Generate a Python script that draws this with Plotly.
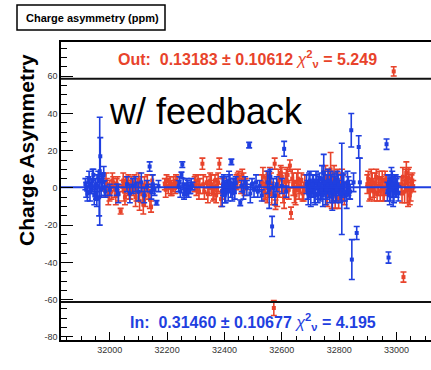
import plotly.graph_objects as go

# ---------------- data ----------------
red_x = [31984, 31990, 31995, 32000, 32006, 32012, 32018, 32024, 32030, 32038, 32044, 32050, 32056,
         32062, 32068, 32075, 32082, 32090, 32097, 32104, 32110, 32117, 32124, 32131, 32140, 32148,
         32192, 32198, 32204, 32210, 32216, 32222, 32228, 32236,
         32296, 32302, 32308, 32314, 32323, 32330, 32338, 32346, 32354, 32360, 32367, 32374, 32382,
         32388, 32395,
         32442, 32450, 32458, 32466, 32474,
         32530, 32538, 32546, 32552, 32558, 32565, 32572, 32575, 32578, 32588, 32596, 32604, 32612,
         32620, 32628, 32632, 32640, 32648, 32656, 32664, 32672, 32680,
         32748, 32755, 32762, 32770, 32778, 32786, 32794, 32802, 32810, 32818,
         32898, 32905, 32912, 32918, 32925, 32932, 32939, 32946, 32953, 32960, 32968,
         32990, 33016, 33022, 33024, 33028, 33034, 33040, 33046, 33052, 33058,
         31987, 31999, 32009, 32021, 32027, 32047, 32053, 32065, 32072, 32086, 32093, 32101,
         32114, 32121, 32135, 32144,
         32195, 32213, 32231,
         32299, 32311, 32326, 32342, 32350, 32363, 32371, 32378, 32392,
         32446, 32462, 32470,
         32534, 32542, 32550, 32562, 32584, 32592, 32600, 32608, 32616, 32624, 32636, 32644,
         32652, 32660, 32668, 32676,
         32752, 32759, 32766, 32774, 32782, 32790, 32798, 32806, 32814,
         32901, 32908, 32915, 32922, 32929, 32936, 32943, 32950, 32957, 32964,
         33019, 33031, 33037, 33043, 33049, 33055]
red_y = [-1, 2, -4, 1, -2, 3, -1, 2, -3, -12.5, 1, -2, 3,
         0, -3, 2, -1, -5, 1, -7, 2, -9, -4, 3, -6, 4,
         2, 4, 1, 3, -1, 2, 0, 3,
         2, -1, 4, 1, 13, -2, 3, 0, 2, -3, 4, 1, 13,
         -6, 2,
         3, 6, 1, 5, 2,
         3, -2, 5, 1, 6, -3, -64.5, 13, -9, 4, 8, -2, 3,
         7, 12, -13.5, 2, -4, 5, 1, -3, 2,
         3, -2, 5, 10, 0, -4, 4, -1, 6, -3,
         2, -2, 4, 0, 3, -3, 5, 1, -1, 4, 0,
         62.6, 2, 6, -47.9, -2, 8, 0, -4, 3, 1,
         3, -3, 4, -4, 1, 4, -5, 2, -1, 3, -2, 4,
         -3, 1, -2, -10,
         -1, 0, 4,
         3, -2, 2, -3, 4, -1, -4, 3, -2,
         4, 7, 0,
         6, 0, -3, 2, -4, 1, 6, -5, 4, -1, 5, -2,
         3, -1, 4, -2,
         6, -4, 2, -3, 5, 1, -5, 2, 0,
         5, -1, 3, -2, 6, 1, -2, 4, -3, 2,
         -3, 4, -1, 5, -2, 4]
red_err = [4, 3, 5, 3, 4, 3, 4, 3, 4, 1.5, 3, 5, 3,
           4, 3, 4, 3, 5, 4, 5, 4, 5, 6, 4, 5, 3,
           3, 3, 4, 3, 3, 4, 3, 3,
           4, 3, 3, 4, 3, 4, 3, 4, 5, 4, 3, 4, 3,
           4, 3,
           4, 3, 4, 3, 3,
           4, 5, 4, 6, 5, 6, 4, 3, 2.5, 6, 4, 6, 5,
           4, 3, 3.2, 6, 5, 5, 4, 4, 5,
           6, 7, 5, 9, 8, 7, 6, 5, 4, 6,
           5, 5, 6, 5, 5, 4, 4, 5, 6, 5, 4,
           2.5, 4, 5, 2.7, 6, 6, 10, 5, 4, 3,
           5, 4, 4, 5, 5, 4, 4, 5, 5, 4, 5, 4,
           5, 5, 4, 3,
           4, 4, 3,
           4, 4, 5, 5, 4, 5, 4, 5, 4,
           4, 3, 4,
           5, 6, 5, 6, 6, 6, 5, 6, 6, 5, 5, 6,
           5, 5, 4, 5,
           6, 6, 7, 8, 7, 8, 6, 6, 7,
           4, 5, 5, 5, 4, 5, 5, 5, 4, 5,
           5, 6, 7, 6, 5, 4]

blue_x = [31915, 31922, 31928, 31934, 31940, 31946, 31950, 31955, 31960, 31965, 31967, 31963,
          31970, 31975, 31979, 31985,
          32000, 32024, 32030, 32060, 32070, 32080, 32090, 32100, 32110, 32120, 32130, 32139,
          32145, 32150, 32156, 32163, 32170,
          32240, 32246, 32250, 32253, 32256, 32262, 32267, 32272, 32278, 32284,
          32392, 32398, 32404, 32410, 32416, 32424, 32422, 32430, 32436, 32455, 32460, 32466,
          32472, 32478, 32486, 32490, 32496, 32503, 32510, 32516, 32522, 32530,
          32550, 32556, 32560, 32566, 32570, 32576, 32582, 32600, 32608, 32615,
          32686, 32692, 32698, 32704, 32710, 32716, 32722, 32728, 32734, 32740, 32746, 32752,
          32758, 32764, 32770, 32776, 32782, 32788, 32794, 32800, 32809, 32816, 32826, 32832,
          32838, 32842, 32844, 32850, 32861, 32868, 32872,
          32965, 32970, 32972, 32976, 32982, 32988, 32994, 33000, 33006,
          31918, 31925, 31931, 31937, 31943, 31952, 31957, 31972, 31982,
          32243, 32259, 32269, 32275, 32281, 32288,
          32395, 32401, 32407, 32413, 32419, 32427, 32433, 32439,
          32689, 32695, 32701, 32707, 32713, 32719, 32725, 32731, 32737, 32743, 32749, 32755,
          32761, 32767, 32773, 32779, 32785, 32791, 32797, 32803, 32812, 32820, 32829, 32835,
          32968, 32974, 32979, 32985, 32991, 32997, 33003]
blue_y = [2, -3, 5, 0, 4, -4, 2, -6, 6, 9, 17, -5,
          -1, 3, 7.5, -2,
          -1, -1, -3, 2, -3, 1, 2, -2, 3, -4, 1, 11.5,
          -2, 2, -1, -8, 1,
          1, -2, 7, 12.5, 2, -1, -3, 1, -1, 2,
          -2, 3, -3, 1, 4, 14, -1, 2, -2, -8, 1, -2,
          3, 0, 23, -3, 2, -1, 3, -2, 1, -4,
          3, -1, 6, -20.7, 0, -4, 2, 1, 21, -2,
          2, -3, 4, -1, 1, -4, 3, 0, -2, 5, 8, -3,
          2, -1, 3, -5, 1, -2, 4, 0, -0.5, 2, -4, 1,
          -2, 31, -38.5, 3, -24.2, 22, 3,
          23.5, 2, -37.4, -4, 5, -2, 3, 0, -3,
          -1, 3, -2, 1, 7, -3, 1, 4, 0,
          3, -3, 2, -2, 0, 1,
          1, -4, 2, -2, 3, -3, 1, 3,
          -1, 3, -4, 2, -2, 4, -3, 2, -1, -4, 3, -1,
          4, -3, 1, -2, 3, -1, 2, -3, 1, -2, 3, -1,
          -2, 3, -1, 2, -3, 1, 2]
blue_err = [3, 4, 4, 3, 6, 5, 3, 4, 3, 29, 10, 10,
            4, 3, 4, 3,
            3, 3, 5, 4, 5, 4, 4, 5, 5, 4, 3, 2.5,
            4, 5, 3, 1.2, 3,
            3, 3, 1.5, 1.5, 3, 3, 2, 3, 2, 3,
            8, 4, 5, 3, 5, 1.5, 4, 3, 4, 1.5, 3, 4,
            3, 4, 1.5, 5, 3, 4, 4, 3, 3, 3,
            6, 10, 4, 5.4, 5, 5, 4, 4, 4, 3,
            5, 6, 5, 4, 6, 5, 4, 6, 5, 7, 10, 6,
            5, 4, 6, 7, 5, 6, 5, 4, 24.5, 6, 7, 5,
            4, 9, 10.7, 5, 3.5, 6, 13,
            2.8, 5, 3, 5, 6, 8, 4, 5, 4,
            4, 3, 5, 4, 3, 3, 6, 4, 4,
            3, 3, 3, 3, 3, 2,
            5, 4, 4, 5, 4, 4, 4, 3,
            5, 5, 6, 5, 6, 5, 5, 6, 5, 6, 6, 5,
            6, 5, 6, 5, 5, 6, 5, 5, 6, 5, 6, 5,
            5, 4, 6, 7, 5, 6, 4]

fit_in = 0.3146
cut_hi, cut_lo = 58.6, -61.3

x_tickvals = [32000, 32200, 32400, 32600, 32800, 33000]
x_ticktext = ["32000", "32200", "32400", "32600", "32800", "33000"]
y_tickvals = [-80, -60, -40, -20, 0, 20, 40, 60]
y_ticktext = ["-80", "-60", "-40", "-20", "0", "20", "40", "60"]

title_text = "Charge asymmetry (ppm)"
ytitle_text = "Charge Asymmetry"
label_text = "w/ feedback"
out_text = "Out:  0.13183 ± 0.10612 <span style='font-weight:normal;font-style:italic'>χ</span><sup>2</sup><sub>ν</sub> = 5.249"
in_text = "In:  0.31460 ± 0.10677 <span style='font-weight:normal;font-style:italic'>χ</span><sup>2</sup><sub>ν</sub> = 4.195"

RED = "#e8432b"
BLUE = "#1f3fe0"
SANS = "Liberation Sans, Arial, sans-serif"

# ---------------- layout geometry ----------------
W, H = 431, 370
L, R, T, B = 61, 0, 42, 30
PW, PH = W - L - R, H - T - B


def px(xp):
    return (xp - L) / PW


def py(yp):
    return (H - B - yp) / PH


fig = go.Figure()

fig.add_trace(go.Scatter(
    x=red_x, y=red_y, mode="markers",
    marker=dict(symbol="square", size=4, color=RED, line=dict(width=0)),
    error_y=dict(type="data", array=red_err, visible=True, color=RED, thickness=1.6, width=3),
    showlegend=False, hoverinfo="skip"))

fig.add_trace(go.Scatter(
    x=blue_x, y=blue_y, mode="markers",
    marker=dict(symbol="square", size=4, color=BLUE, line=dict(width=0)),
    error_y=dict(type="data", array=blue_err, visible=True, color=BLUE, thickness=1.6, width=3),
    showlegend=False, hoverinfo="skip"))

# fit line (In)
fig.add_trace(go.Scatter(
    x=[31830, 33120], y=[fit_in, fit_in], mode="lines",
    line=dict(color=BLUE, width=2), showlegend=False, hoverinfo="skip"))

fig.add_shape(type="line", xref="paper", yref="y", x0=0, x1=1, y0=cut_hi, y1=cut_hi,
              line=dict(color="#111", width=2))
fig.add_shape(type="line", xref="paper", yref="y", x0=0, x1=1, y0=cut_lo, y1=cut_lo,
              line=dict(color="#111", width=2))

# title box
fig.add_shape(type="rect", xref="paper", yref="paper",
              x0=px(17), x1=px(165), y0=py(30), y1=py(5),
              line=dict(color="black", width=1.5), fillcolor="white", layer="above")
fig.add_annotation(xref="paper", yref="paper", x=px(92), y=py(17.5), text="<b>" + title_text + "</b>",
                   showarrow=False, font=dict(family=SANS, size=11, color="black"),
                   xanchor="center", yanchor="middle")

fig.add_annotation(xref="paper", yref="paper", x=px(26), y=py(150), text="<b>" + ytitle_text + "</b>",
                   textangle=-90, showarrow=False,
                   font=dict(family=SANS, size=21, color="black"),
                   xanchor="center", yanchor="middle")

fig.add_annotation(xref="paper", yref="paper", x=px(206), y=py(111), text=label_text,
                   showarrow=False,
                   font=dict(family=SANS, size=36, color="black"),
                   xanchor="center", yanchor="middle")

fig.add_annotation(xref="paper", yref="paper", x=px(247), y=py(59), text="<b>" + out_text + "</b>",
                   showarrow=False, font=dict(family=SANS, size=16, color=RED),
                   xanchor="center", yanchor="middle")
fig.add_annotation(xref="paper", yref="paper", x=px(253), y=py(322), text="<b>" + in_text + "</b>",
                   showarrow=False, font=dict(family=SANS, size=16, color=BLUE),
                   xanchor="center", yanchor="middle")

fig.update_layout(
    width=W, height=H,
    margin=dict(l=L, r=R, t=T, b=B, pad=0),
    paper_bgcolor="white", plot_bgcolor="white",
    showlegend=False,
    xaxis=dict(range=[31830, 33120], tickvals=x_tickvals, ticktext=x_ticktext,
               ticks="inside", ticklen=8, tickwidth=1, tickcolor="black",
               minor=dict(ticks="inside", ticklen=4, dtick=50, tick0=32000, tickcolor="black", tickwidth=1),
               showline=True, linecolor="black", linewidth=1.5, mirror=True,
               showgrid=False, zeroline=False,
               tickfont=dict(family=SANS, size=9, color="#333")),
    yaxis=dict(range=[-81.7, 78.4], tickvals=y_tickvals, ticktext=y_ticktext,
               ticks="inside", ticklen=12, tickwidth=1.2, tickcolor="black",
               minor=dict(ticks="inside", ticklen=6, dtick=5, tick0=0, tickcolor="black", tickwidth=1),
               showline=True, linecolor="black", linewidth=1.5, mirror=False,
               showgrid=False, zeroline=False,
               tickfont=dict(family=SANS, size=9, color="#333")),
)

fig.write_html("out.html")
